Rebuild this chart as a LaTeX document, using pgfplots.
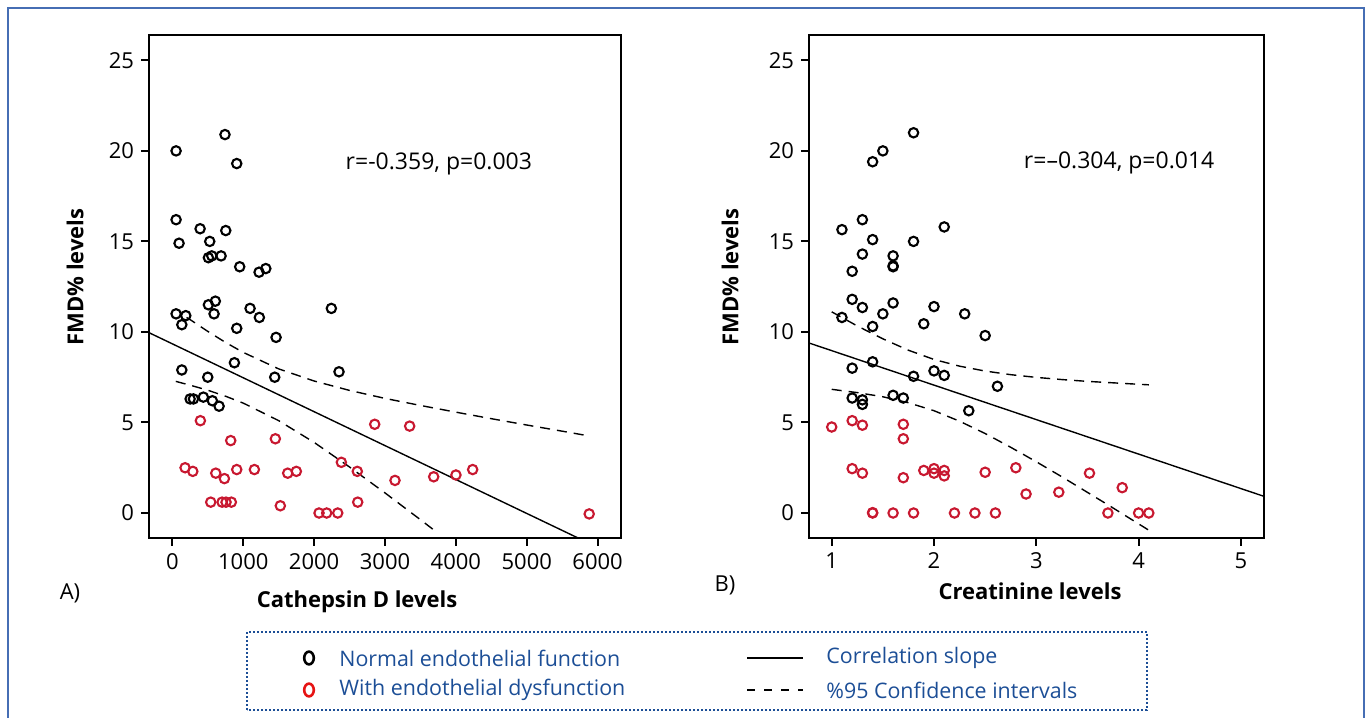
\documentclass[border=0pt]{standalone}
\usepackage{pgfplots}
\pgfplotsset{compat=1.18}
\usepackage{fontspec}
\setmainfont{Open Sans}
\definecolor{dysred}{RGB}{200,24,48}
\definecolor{legred}{RGB}{230,20,20}
\definecolor{legblue}{RGB}{28,78,150}
\definecolor{frameblue}{RGB}{70,110,180}

\pgfplotsset{
  fmd/.style={
    scale only axis,
    height=251.5pt,
    ymin=-1.38, ymax=26.4,
    ytick={0,5,...,25},
    axis line style={line width=1pt},
    tick style={line width=1pt, black},
    major tick length=4pt,
    tick align=outside,
    xtick pos=bottom, ytick pos=left,
    tick label style={font=\fontsize{11}{13}\selectfont},
    /pgf/number format/assume math mode=true,
    /pgf/number format/set thousands separator={},
  },
  normal/.style={only marks, mark=o, mark size=2.35pt, mark options={line width=1.05pt, draw=black}},
  dysf/.style={only marks, mark=o, mark size=2.35pt, mark options={line width=1.05pt, draw=dysred}},
  slope/.style={black, line width=0.7pt, no marks},
  ci/.style={black, line width=0.7pt, dash pattern=on 5pt off 3.5pt, no marks},
}

\begin{document}
\begin{tikzpicture}
\useasboundingbox (0,0) rectangle (686pt,359pt);
\draw[frameblue, line width=0.6pt] (4pt,0) -- (4pt,355pt) -- (682pt,355pt) -- (682pt,0);

% A) Cathepsin D
\begin{axis}[fmd, at={(74.5pt,90pt)}, anchor=south west, width=236pt,
  xmin=-330, xmax=6330, xtick={0,1000,...,6000}]
\addplot[slope] coordinates {(-330,9.96) (5740,-1.41)};
\addplot[ci] coordinates {(200,10.80) (250,10.68) (500,10.03) (750,9.42) (1000,8.87) (1500,7.96) (2000,7.29)
  (2500,6.77) (3000,6.33) (3500,5.94) (4000,5.57) (4500,5.21) (5000,4.86) (5500,4.52) (5845,4.28)};
\addplot[ci] coordinates {(48,7.27) (250,7.06) (500,6.78) (750,6.45) (1000,6.07) (1500,5.10) (2000,3.90)
  (2500,2.54) (3000,1.11) (3500,-0.37) (3750,-1.12)};
\addplot[normal] coordinates {
  (52,20.0) (742,20.9) (908,19.3) (52,16.2) (391,15.7) (753,15.6) (94,14.9) (527,15.0)
  (508,14.1) (556,14.2) (687,14.2) (950,13.6) (1223,13.3) (1318,13.5) (508,11.5) (606,11.7)
  (588,11.0) (52,11.0) (189,10.9) (133,10.4) (1096,11.3) (1227,10.8) (2243,11.3) (908,10.2)
  (1463,9.7) (875,8.3) (133,7.9) (499,7.5) (1444,7.5) (2351,7.8) (250,6.3) (297,6.3)
  (437,6.4) (564,6.2) (659,5.9)};
\addplot[dysf] coordinates {
  (395,5.1) (2855,4.9) (3348,4.8) (823,4.0) (1453,4.1) (179,2.5) (288,2.3) (612,2.2)
  (734,1.9) (908,2.4) (1157,2.4) (1627,2.2) (1749,2.3) (2384,2.8) (2609,2.3) (3141,1.8)
  (3687,2.0) (4001,2.1) (4237,2.4) (541,0.6) (701,0.6) (757,0.6) (832,0.6) (1523,0.4)
  (2069,0) (2177,0) (2333,0) (2615,0.6) (5881,-0.05)};
\node[font=\fontsize{11.5}{13}\selectfont] at (axis cs:3760,19.3) {r=-0.359, p=0.003};
\end{axis}

% B) Creatinine
\begin{axis}[fmd, at={(404.5pt,90pt)}, anchor=south west, width=227.5pt,
  xmin=0.778, xmax=5.226, xtick={1,2,3,4,5}]
\addplot[slope] coordinates {(0.778,9.39) (5.226,0.92)};
\addplot[ci] coordinates {(1.0,11.11) (1.25,10.33) (1.5,9.62) (1.75,8.99) (2.0,8.48) (2.25,8.11) (2.5,7.84)
  (2.75,7.64) (3.0,7.49) (3.25,7.37) (3.5,7.27) (3.75,7.19) (4.0,7.11) (4.1,7.08)};
\addplot[ci] coordinates {(1.0,6.83) (1.25,6.65) (1.5,6.42) (1.75,6.09) (2.0,5.65) (2.25,5.07) (2.5,4.39)
  (2.75,3.63) (3.0,2.83) (3.25,2.00) (3.5,1.14) (3.75,0.28) (4.0,-0.60) (4.1,-0.95)};
\addplot[normal] coordinates {
  (1.8,21.0) (1.5,20.0) (1.4,19.4) (1.3,16.2) (1.1,15.65) (2.1,15.8) (1.4,15.1) (1.8,15.0)
  (1.3,14.3) (1.6,14.2) (1.6,13.65) (1.6,13.6) (1.2,13.35) (1.2,11.8) (1.3,11.35) (1.6,11.6)
  (1.5,11.0) (2.0,11.4) (2.3,11.0) (1.1,10.8) (1.4,10.3) (1.9,10.45) (2.5,9.8) (1.4,8.35)
  (1.2,8.0) (1.8,7.55) (2.0,7.85) (2.1,7.6) (2.62,7.0) (1.2,6.35) (1.3,6.25) (1.3,6.0)
  (1.6,6.5) (1.7,6.35) (2.34,5.65)};
\addplot[dysf] coordinates {
  (1.0,4.75) (1.2,5.1) (1.3,4.85) (1.7,4.9) (1.7,4.1) (1.2,2.45) (1.3,2.2) (1.7,1.95)
  (1.9,2.35) (2.0,2.45) (2.0,2.2) (2.1,2.35) (2.1,2.05) (2.5,2.25) (2.8,2.5) (2.9,1.05)
  (3.22,1.15) (3.52,2.2) (3.84,1.4) (1.4,0) (1.4,0.02) (1.6,0) (1.8,0) (2.2,0) (2.4,0)
  (2.6,0) (3.7,0) (4.0,0) (4.1,0)};
\node[font=\fontsize{11.5}{13}\selectfont] at (axis cs:3.81,19.33) {r=–0.304, p=0.014};
\end{axis}

% axis titles and panel letters
\node[rotate=90, font=\bfseries\fontsize{11}{13}\selectfont] at (37.5pt,220.5pt) {FMD\% levels};
\node[rotate=90, font=\bfseries\fontsize{11}{13}\selectfont] at (365pt,220.5pt) {FMD\% levels};
\node[font=\bfseries\fontsize{11}{13}\selectfont] at (178.5pt,58pt) {Cathepsin D levels};
\node[font=\bfseries\fontsize{11}{13}\selectfont] at (515pt,63.5pt) {Creatinine levels};
\node[font=\fontsize{11}{13}\selectfont] at (35pt,62.5pt) {A)};
\node[font=\fontsize{11}{13}\selectfont] at (362.5pt,66.5pt) {B)};

% legend
\draw[legblue, line width=0.8pt, dash pattern=on 0.8pt off 1.2pt] (123.5pt,4pt) rectangle (573.5pt,43pt);
\draw[black, line width=1.3pt] (154.5pt,30pt) ellipse [x radius=2.4pt, y radius=3.2pt];
\draw[legred, line width=1.3pt] (154.5pt,14pt) ellipse [x radius=2.4pt, y radius=3.2pt];
\node[anchor=west, text=legblue, font=\fontsize{10.7}{12}\selectfont, inner sep=0pt] at (169.5pt,30pt) {Normal endothelial function};
\node[anchor=west, text=legblue, font=\fontsize{10.7}{12}\selectfont, inner sep=0pt] at (169.5pt,14pt) {With endothelial dysfunction};
\draw[black, line width=1pt] (373.5pt,30pt) -- (401.5pt,30pt);
\draw[black, line width=1pt, dash pattern=on 4pt off 4.5pt] (373.5pt,14pt) -- (401.5pt,14pt);
\node[anchor=west, text=legblue, font=\fontsize{10.7}{12}\selectfont, inner sep=0pt] at (413pt,30pt) {Correlation slope};
\node[anchor=west, text=legblue, font=\fontsize{10.7}{12}\selectfont, inner sep=0pt] at (413pt,14pt) {\%95 Confidence intervals};
\end{tikzpicture}
\end{document}
